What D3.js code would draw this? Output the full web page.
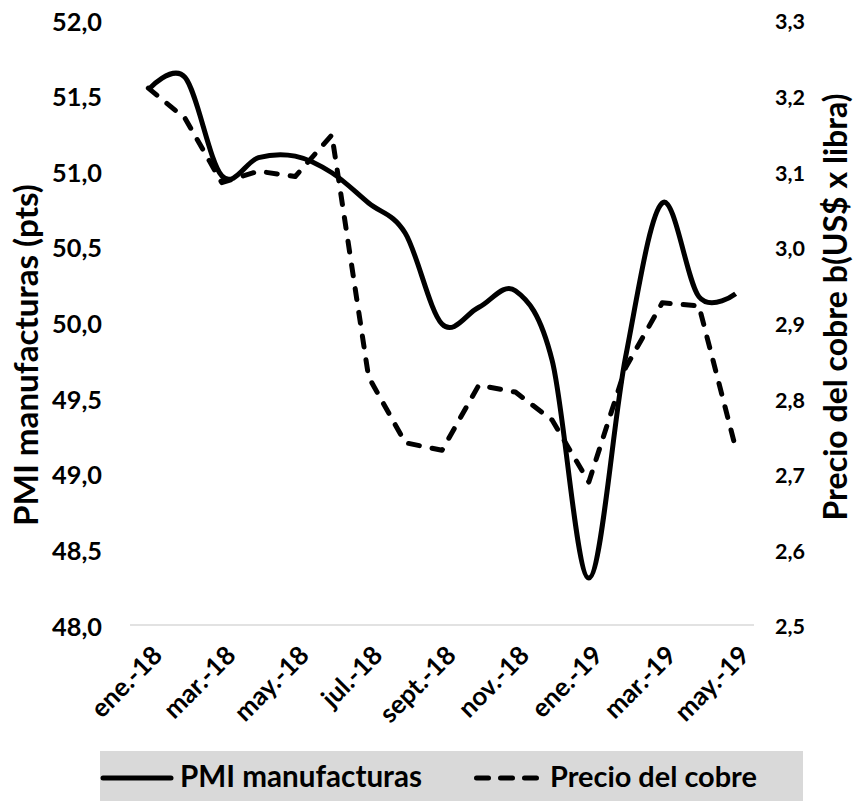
<!DOCTYPE html>
<html><head><meta charset="utf-8">
<script src="https://cdn.jsdelivr.net/npm/d3@7"></script>
<style>body{margin:0;background:#fff}svg{display:block}svg text{font-family:Lato,"Open Sans",sans-serif;font-weight:700;fill:#000}</style>
</head><body>
<svg id="c" width="856" height="801"></svg>
<script>
const months = ["ene.-18","feb.-18","mar.-18","abr.-18","may.-18","jun.-18","jul.-18","ago.-18","sept.-18","oct.-18","nov.-18","dic.-18","ene.-19","feb.-19","mar.-19","abr.-19","may.-19"];
const pmi = [51.54,51.62,50.97,51.09,51.10,50.99,50.79,50.59,49.99,50.10,50.21,49.75,48.31,49.77,50.79,50.17,50.19];
const cobre = [3.21,3.17,3.085,3.10,3.093,3.148,2.828,2.741,2.731,2.817,2.808,2.771,2.689,2.84,2.926,2.922,2.734];
const leftTicks = [48.0,48.5,49.0,49.5,50.0,50.5,51.0,51.5,52.0];
const rightTicks = [2.5,2.6,2.7,2.8,2.9,3.0,3.1,3.2,3.3];
const xLabelEvery = 2;
const leftTitle = "PMI manufacturas (pts)";
const rightTitle = "Precio del cobre b(US$ x libra)";
const legendNames = ["PMI manufacturas","Precio del cobre"];

const svg = d3.select("#c");
const fmt = v => d3.format(".1f")(v).replace(".", ",");

// scale a font size so a text reaches a target width
function fitSize(str, target) {
  const t = svg.append("text").attr("font-size", 20).text(str);
  const w = t.node().getComputedTextLength();
  t.remove();
  return 20 * target / w;
}

const x = d3.scalePoint().domain(months).range([130, 754]).padding(0.5);
const yL = d3.scaleLinear().domain([48, 52]).range([625, 20]);
const yR = d3.scaleLinear().domain([2.5, 3.3]).range([625, 20]);

// baseline axis line
svg.append("line").attr("x1",130).attr("x2",754).attr("y1",yL(48)).attr("y2",yL(48))
  .attr("stroke","#d9d9d9").attr("stroke-width",1.5);

// left axis
const lSize = fitSize("52,0", 50);
const gl = svg.append("g").attr("transform","translate(102,2)")
  .call(d3.axisLeft(yL).tickValues(leftTicks).tickFormat(fmt).tickSize(0).tickPadding(0));
gl.select(".domain").remove();
gl.attr("font-family", null).attr("font-size", null);
gl.selectAll("text").attr("font-size",lSize);

// right axis
const rSize = fitSize("3,3", 30);
const gr = svg.append("g").attr("transform","translate(775,2)")
  .call(d3.axisRight(yR).tickValues(rightTicks).tickFormat(fmt).tickSize(0).tickPadding(0));
gr.select(".domain").remove();
gr.attr("font-family", null).attr("font-size", null);
gr.selectAll("text").attr("font-size",rSize);

// x axis labels
const xSize = fitSize("ene.-18", 88);
const gx = svg.append("g").attr("transform","translate(0,625)")
  .call(d3.axisBottom(x).tickValues(months.filter((d,i)=>i%xLabelEvery===0)).tickSize(0).tickPadding(0));
gx.select(".domain").remove();
gx.attr("font-family", null).attr("font-size", null);
gx.selectAll("text").attr("font-size",xSize)
  .attr("text-anchor","end").attr("y",0).attr("dy",0).attr("transform","translate(15,32) rotate(-45)");

// titles
svg.append("text").attr("transform","translate(26,355) rotate(-90)").attr("text-anchor","middle")
  .attr("dy","0.35em").attr("font-size",fitSize(leftTitle,342)).text(leftTitle);
svg.append("text").attr("transform","translate(836,307) rotate(-90)").attr("text-anchor","middle")
  .attr("dy","0.35em").attr("font-size",fitSize(rightTitle,427)).text(rightTitle);

// lines
const lineL = d3.line().x((d,i)=>x(months[i])).y(d=>yL(d)).curve(d3.curveCatmullRom.alpha(0));
const lineR = d3.line().x((d,i)=>x(months[i])).y(d=>yR(d));
svg.append("path").attr("d",lineL(pmi)).attr("fill","none").attr("stroke","#000").attr("stroke-width",5).attr("stroke-linejoin","round");
svg.append("path").attr("d",lineR(cobre)).attr("fill","none").attr("stroke","#000").attr("stroke-width",5)
  .attr("stroke-dasharray","11,13").attr("stroke-linecap","round").attr("stroke-linejoin","round");

// legend
svg.append("rect").attr("x",100).attr("y",751).attr("width",703).attr("height",50).attr("fill","#d9d9d9");
svg.append("line").attr("x1",103).attr("x2",171).attr("y1",778).attr("y2",778).attr("stroke","#000").attr("stroke-width",5).attr("stroke-linecap","round");
svg.append("text").attr("x",180).attr("y",787).attr("font-size",fitSize(legendNames[0],242)).text(legendNames[0]);
svg.append("line").attr("x1",476.5).attr("x2",536.5).attr("y1",778).attr("y2",778).attr("stroke","#000").attr("stroke-width",5)
  .attr("stroke-dasharray","12,12").attr("stroke-linecap","round");
svg.append("text").attr("x",550).attr("y",787).attr("font-size",fitSize(legendNames[1],207)).text(legendNames[1]);
</script>
</body></html>
